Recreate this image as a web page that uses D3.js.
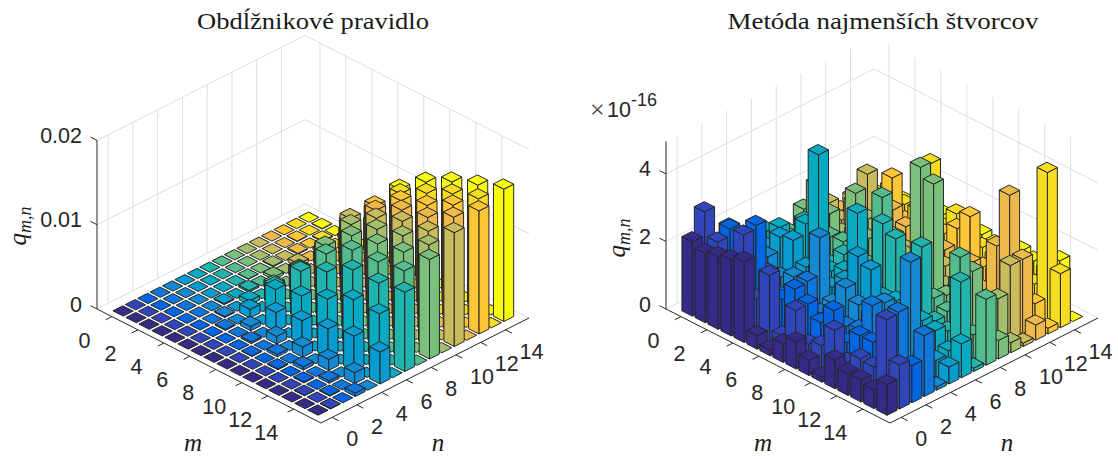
<!DOCTYPE html>
<html><head><meta charset="utf-8">
<script src="https://cdnjs.cloudflare.com/ajax/libs/d3/7.8.5/d3.min.js"></script>
<style>html,body{margin:0;padding:0;background:#fff;overflow:hidden}svg{display:block}</style>
</head><body><svg id="c" width="1118" height="459"></svg>
<script>
const titleLeft = "Obdĺžnikové pravidlo";
const titleRight = "Metóda najmenších štvorcov";
const axisTicks = [0,2,4,6,8,10,12,14];
const zTicksLeft = [0,0.01,0.02];
const zTickLabelsLeft = ["0","0.01","0.02"];
const zTicksRight = [0,2,4];
const zTickLabelsRight = ["0","2","4"];
const parula16 = ["#352a87","#3145bb","#0265e1","#0f77db","#1388d3","#079ccf","#08aac1","#20b4ad","#54bd8e","#7abf7c","#a5be6b","#cabc5c","#eeb94b","#fec534","#f6dd22","#f9fb0e"];

// rows m = 0..15, columns n = 0..15, in units of 1e-3
const rectRows = [
[0,0,0,0,0,0,0,0,0,0,0,0,0,0,0,0],
[0,0,0,0,0,0,0,0,0,0,0,0,0,0.05,0,0.05],
[0,0,0,0,0,0,0,0,0.05,0,0.1,0,0.1,0,0.1,0],
[0,0,0,0,0,0.12,0,0.2,0,0.3,0,0.4,0,0.3,0,0.4],
[0,0,0,0,0.12,0,0.5,0,0.9,0,1.2,0,1.3,0,1.3,0],
[0,0,0,0.12,0,1.0,0,2.2,0,2.8,0,3.4,0,4.1,0,3.8],
[0,0,0,0,0.5,0,3.4,0,4.2,0,5.4,0,6.9,0,6.8,0],
[0,0,0,0.2,0,2.2,0,5.6,0,7.1,0,8.9,0,8.9,0,9.4],
[0,0,0.05,0,0.9,0,4.2,0,7.7,0,9.7,0,9.9,0,10.4,0],
[0,0,0,0.3,0,2.8,0,7.1,0,9.9,0,10.5,0,11.1,0,11.8],
[0,0,0.1,0,1.2,0,5.4,0,9.7,0,10.7,0,11.5,0,12.0,0],
[0,0,0,0.4,0,3.4,0,8.9,0,10.5,0,11.7,0,12.1,0,13.4],
[0,0,0.1,0,1.3,0,6.9,0,9.9,0,11.5,0,12.2,0,13.5,0],
[0,0.05,0,0.3,0,4.1,0,8.9,0,11.1,0,12.1,0,13.7,0,14.6],
[0,0,0.1,0,1.3,0,6.8,0,10.4,0,12.0,0,13.8,0,14.5,0],
[0,0.05,0,0.4,0,3.8,0,9.4,0,11.8,0,13.5,0,14.6,0,15.7]
];
// rows m = 0..15, columns n = 0..15, in units of 1e-16
const lsqRows = [
[2.2,2.9,1.3,2.05,1.0,1.2,1.4,1.1,0.95,1.5,1.2,1.3,0.9,1.1,1.0,0.8],
[2.05,2.2,2.4,1.6,1.5,1.3,1.7,1.2,1.0,2.4,1.3,1.0,1.2,0.9,1.1,1.2],
[2.15,1.0,1.7,1.2,1.4,1.8,1.2,1.9,1.1,1.75,1.0,1.7,1.3,1.4,0.9,1.0],
[2.25,2.8,2.9,1.3,1.0,1.9,2.2,1.7,1.45,1.0,1.2,2.75,1.2,2.27,1.3,0.9],
[2.4,1.1,1.6,0.8,1.2,1.3,4.45,1.0,1.5,2.75,1.8,1.0,1.7,1.2,1.0,1.1],
[0.4,2.0,1.1,1.0,0.9,1.4,1.2,1.5,1.3,1.6,1.2,1.3,1.4,1.7,2.9,1.2],
[0.17,0.4,1.6,1.65,2.75,1.1,1.4,1.0,1.2,0.8,1.5,1.1,1.0,1.3,1.2,1.0],
[0.55,1.35,1.35,0.9,1.0,1.5,3.3,1.4,3.4,1.2,1.3,1.0,1.1,1.4,1.8,1.4],
[0.8,0.55,1.0,1.1,1.65,2.4,1.3,3.0,1.0,1.4,1.1,1.2,1.3,1.75,1.3,1.2],
[0.45,0.7,1.55,0.9,1.35,2.2,1.2,2.75,1.4,4.5,0.9,1.2,1.1,2.3,1.2,1.1],
[0.15,1.35,0.8,1.0,1.2,1.0,1.3,1.1,1.4,4.2,1.0,0.9,1.3,1.0,1.1,0.9],
[0.85,0.6,1.2,1.9,1.8,1.2,1.0,2.9,1.2,1.1,1.3,1.0,0.7,1.0,0.9,1.3],
[0.65,0.9,1.2,1.0,1.1,0.6,1.1,0.9,1.0,0.8,0.6,0.5,2.2,0.8,1.0,1.2],
[0.65,0.85,0.7,2.1,3.4,0.7,1.0,0.8,2.8,2.2,0.6,0.4,3.9,0.6,0.9,1.1],
[0.55,2.45,0.9,0.6,0.8,0.5,0.6,2.45,0.7,0.5,1.4,2.2,2.2,0.7,4.4,1.6],
[0.9,1.3,1.1,1.8,0.1,0.5,1.0,0.1,1.95,0.55,0.3,0.1,0.45,0.17,1.6,0]
];

const svg = d3.select("#c");
const INK = "#262626", GRID = "#dedede", EDGE = "#262626";
const mDom = [-1.15,16.1], nDom = [-0.9,15.9];
const halfW = 0.4;

function panel(o){
  const g = svg.append("g");
  const L=o.L,F=o.F,R=o.R;
  const sm = d3.scaleLinear().domain(mDom).range([0,1]);
  const sn = d3.scaleLinear().domain(nDom).range([0,1]);
  const sz = d3.scaleLinear().domain([0,o.zMax]).range([0,o.boxH]);
  const P = (m,n,z=0)=>{
    const a=sm(m), b=sn(n);
    return [L[0]+a*(F[0]-L[0])+b*(R[0]-F[0]), L[1]+a*(F[1]-L[1])+b*(R[1]-F[1])-sz(z)];
  };
  const line=(p,q,col,w)=>g.append("line").attr("x1",p[0]).attr("y1",p[1]).attr("x2",q[0]).attr("y2",q[1]).attr("stroke",col).attr("stroke-width",w);
  const [m0,m1]=mDom,[n0,n1]=nDom;
  // walls
  o.zTicks.forEach(z=>{ line(P(m0,n0,z),P(m0,n1,z),GRID,1); line(P(m0,n1,z),P(m1,n1,z),GRID,1); });
  axisTicks.forEach(t=>{
    line(P(m0,t,0),P(m0,t,o.zMax),GRID,1);
    line(P(t,n1,0),P(t,n1,o.zMax),GRID,1);
  });
  // bars
  const bars=[];
  o.rows.forEach((row,m)=>row.forEach((v,n)=>bars.push({m,n,v:v*o.unit})));
  bars.sort((a,b)=>d3.ascending(a.m,b.m)||d3.descending(a.n,b.n));
  const pts=a=>a.map(p=>p.join(",")).join(" ");
  const bg=g.selectAll("g.bar").data(bars).join("g").attr("class","bar")
    .attr("fill",d=>parula16[d.n]).attr("stroke",EDGE).attr("stroke-width",o.sw).attr("stroke-linejoin","round");
  bg.filter(d=>d.v>0).append("polygon").attr("points",d=>pts([P(d.m-halfW,d.n-halfW,0),P(d.m+halfW,d.n-halfW,0),P(d.m+halfW,d.n-halfW,d.v),P(d.m-halfW,d.n-halfW,d.v)]));
  bg.filter(d=>d.v>0).append("polygon").attr("points",d=>pts([P(d.m+halfW,d.n-halfW,0),P(d.m+halfW,d.n+halfW,0),P(d.m+halfW,d.n+halfW,d.v),P(d.m+halfW,d.n-halfW,d.v)]));
  bg.append("polygon").attr("points",d=>pts([P(d.m-halfW,d.n-halfW,d.v),P(d.m+halfW,d.n-halfW,d.v),P(d.m+halfW,d.n+halfW,d.v),P(d.m-halfW,d.n+halfW,d.v)]));
  // axes
  line(P(m0,n0,0),P(m0,n0,o.zMax),INK,1);
  line(P(m0,n0,0),P(m1,n0,0),INK,1);
  line(P(m1,n0,0),P(m1,n1,0),INK,1);
  const txt=(x,y,s,anchor)=>g.append("text").attr("x",x).attr("y",y).attr("text-anchor",anchor).attr("font-family","'Liberation Sans',Arial,sans-serif").attr("font-size",21.5).attr("fill",INK).text(s);
  axisTicks.forEach(t=>{
    const a=P(t,n0,0), b=P(t,n0-0.5,0);
    line(a,b,INK,1);
    txt(a[0]-27.5,a[1]+31,t,"middle");
    const c=P(m1,t,0), d=P(m1+0.5,t,0);
    line(c,d,INK,1);
    txt(c[0]+14,c[1]+29,t,"start");
  });
  o.zTicks.forEach((z,i)=>{
    const a=P(m0,n0,z), b=P(m0-0.5,n0,z);
    line(a,b,INK,1);
    txt(a[0]-15,a[1]+2.5,o.zLabels[i],"end");
  });
  // titles and labels
  g.append("text").attr("x",o.titleX).attr("y",29).attr("text-anchor","middle").attr("font-family","'Liberation Serif',serif").attr("font-size",24).attr("textLength",o.titleW).attr("lengthAdjust","spacingAndGlyphs").attr("fill","#1a1a1a").text(o.title);
  const math=(x,y,s,rot)=>{
    const t=g.append("text").attr("text-anchor","middle").attr("font-family","'Liberation Serif',serif").attr("font-style","italic").attr("font-size",25).attr("fill","#1a1a1a").attr("transform",`translate(${x},${y}) rotate(${rot})`);
    return t.text(s);
  };
  math(o.mLab[0],o.mLab[1],"m",0);
  math(o.nLab[0],o.nLab[1],"n",0);
  const q=math(o.qLab[0],o.qLab[1],"q",-90);
  q.append("tspan").attr("dy",5).attr("font-size",18).text("m,n");
}

panel({title:titleLeft,titleX:313,titleW:232,L:[97,309],F:[321,423],R:[529,318],boxH:168.6,zMax:0.02,zTicks:zTicksLeft,zLabels:zTickLabelsLeft,rows:rectRows,unit:1e-3,sw:1,mLab:[193,451],nLab:[438,451],qLab:[26,226]});
panel({title:titleRight,titleX:883,titleW:311,L:[666,309],F:[890,423],R:[1098,318],boxH:167.5,zMax:4.96,zTicks:zTicksRight,zLabels:zTickLabelsRight,rows:lsqRows,unit:1,sw:1,mLab:[763,451],nLab:[1007,451],qLab:[625,238]});

const ex=svg.append("g").attr("fill",INK).attr("font-family","'Liberation Sans',Arial,sans-serif");
ex.append("text").attr("x",590).attr("y",118).attr("font-family","'Liberation Serif',serif").attr("font-size",26).attr("fill","#444").text("×");
ex.append("text").attr("x",607).attr("y",117).attr("font-size",21.5).text("10");
ex.append("text").attr("x",631).attr("y",106).attr("font-size",18).text("-16");
</script></body></html>
